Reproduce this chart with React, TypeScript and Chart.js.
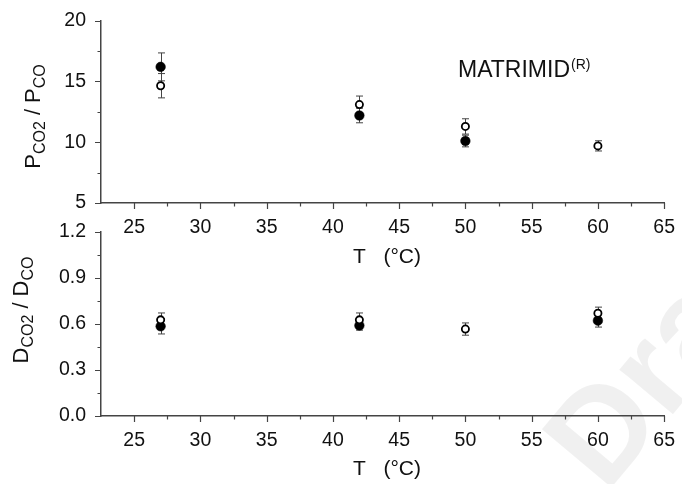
import React, { useEffect, useRef } from "react";
import { Chart, registerables } from "chart.js";

Chart.register(...registerables);

// ---------- data ----------
const T_P_OPEN = [27, 42, 50, 60];
const P_OPEN = [14.65, 13.1, 11.3, 9.7];
const P_OPEN_ERR = [1.0, 0.7, 0.63, 0.42];

const T_P_FILLED = [27, 42, 50];
const P_FILLED = [16.2, 12.2, 10.1];
const P_FILLED_ERR = [1.15, 0.6, 0.48];

const T_D_OPEN = [27, 42, 50, 60];
const D_OPEN = [0.627, 0.627, 0.567, 0.67];
const D_OPEN_ERR = [0.045, 0.045, 0.04, 0.04];

const T_D_FILLED = [27, 42, 60];
const D_FILLED = [0.585, 0.59, 0.622];
const D_FILLED_ERR = [0.05, 0.03, 0.042];

const X_TICKS = [25, 30, 35, 40, 45, 50, 55, 60, 65];
const X_MINOR = [27.5, 32.5, 37.5, 42.5, 47.5, 52.5, 57.5, 62.5];
const P_TICKS = [5, 10, 15, 20];
const P_MINOR = [7.5, 12.5, 17.5];
const D_TICKS = [0, 0.3, 0.6, 0.9, 1.2];
const D_MINOR = [0.15, 0.45, 0.75, 1.05];

const X_TITLE = "T   (\u00B0C)";
const LABEL_TEXT = "MATRIMID";
const LABEL_SUP = "(R)";
const WATERMARK = "Draft";

const FONT = "'Liberation Sans', Arial, sans-serif";
const AXIS_COLOR = "#444";
const TEXT_COLOR = "#111";

type Part = { t: string; size: number; dy: number };

function drawRich(ctx: CanvasRenderingContext2D, cx: number, cy: number, parts: Part[], rotate: boolean) {
  ctx.save();
  ctx.translate(cx, cy);
  if (rotate) ctx.rotate(-Math.PI / 2);
  ctx.fillStyle = TEXT_COLOR;
  ctx.textBaseline = "alphabetic";
  ctx.textAlign = "left";
  let total = 0;
  const widths = parts.map((p) => {
    ctx.font = `${p.size}px ${FONT}`;
    const w = ctx.measureText(p.t).width;
    total += w;
    return w;
  });
  let x = -total / 2;
  parts.forEach((p, i) => {
    ctx.font = `${p.size}px ${FONT}`;
    ctx.fillText(p.t, x, p.dy);
    x += widths[i];
  });
  ctx.restore();
}

const errorBarPlugin = {
  id: "errbars",
  beforeDatasetsDraw(chart: any) {
    const ctx = chart.ctx;
    const xs = chart.scales.x;
    const ys = chart.scales.y;
    ctx.save();
    ctx.strokeStyle = "#444";
    ctx.lineWidth = 1;
    chart.data.datasets.forEach((ds: any) => {
      const errs = ds.errors as number[];
      if (!errs) return;
      ds.data.forEach((p: any, i: number) => {
        const e = errs[i];
        const px = Math.round(xs.getPixelForValue(p.x)) + 0.5;
        const y1 = ys.getPixelForValue(p.y + e);
        const y2 = ys.getPixelForValue(p.y - e);
        ctx.beginPath();
        ctx.moveTo(px, y1);
        ctx.lineTo(px, y2);
        ctx.moveTo(px - 3.5, y1);
        ctx.lineTo(px + 3.5, y1);
        ctx.moveTo(px - 3.5, y2);
        ctx.lineTo(px + 3.5, y2);
        ctx.stroke();
      });
    });
    ctx.restore();
  },
};

function makeTickPlugin(yTicks: number[], yMinor: number[]) {
  return {
    id: "manualTicks",
    afterDraw(chart: any) {
      const ctx = chart.ctx;
      const xs = chart.scales.x;
      const ys = chart.scales.y;
      const { left, bottom } = chart.chartArea;
      ctx.save();
      ctx.strokeStyle = AXIS_COLOR;
      ctx.lineWidth = 1.2;
      ctx.beginPath();
      X_TICKS.forEach((v) => {
        const px = Math.round(xs.getPixelForValue(v)) + 0.5;
        ctx.moveTo(px, bottom);
        ctx.lineTo(px, bottom + 6);
      });
      X_MINOR.forEach((v) => {
        const px = Math.round(xs.getPixelForValue(v)) + 0.5;
        ctx.moveTo(px, bottom);
        ctx.lineTo(px, bottom + 3.5);
      });
      yTicks.forEach((v) => {
        const py = Math.round(ys.getPixelForValue(v)) + 0.5;
        ctx.moveTo(left - 6, py);
        ctx.lineTo(left, py);
      });
      yMinor.forEach((v) => {
        const py = Math.round(ys.getPixelForValue(v)) + 0.5;
        ctx.moveTo(left - 3.5, py);
        ctx.lineTo(left, py);
      });
      ctx.stroke();
      ctx.restore();
    },
  };
}

function makeConfig(opts: {
  openX: number[]; openY: number[]; openErr: number[];
  fillX: number[]; fillY: number[]; fillErr: number[];
  yMin: number; yMax: number; yTicks: number[]; yMinor: number[];
  padTop: number; padBottom: number; fmt: (v: number) => string;
  extra: any;
}): any {
  return {
    type: "scatter",
    data: {
      datasets: [
        {
          label: "open",
          data: opts.openX.map((t, i) => ({ x: t, y: opts.openY[i] })),
          errors: opts.openErr,
          pointRadius: 3.6,
          pointBackgroundColor: "#ffffff",
          pointBorderColor: "#000000",
          pointBorderWidth: 1.8,
          showLine: false,
        },
        {
          label: "filled",
          data: opts.fillX.map((t, i) => ({ x: t, y: opts.fillY[i] })),
          errors: opts.fillErr,
          pointRadius: 4.8,
          pointBackgroundColor: "#000000",
          pointBorderColor: "#000000",
          pointBorderWidth: 0.5,
          showLine: false,
        },
      ],
    },
    options: {
      animation: false,
      responsive: false,
      devicePixelRatio: 1,
      events: [],
      layout: { padding: { left: 0, right: 14, top: opts.padTop, bottom: opts.padBottom } },
      plugins: { legend: { display: false }, tooltip: { enabled: false }, title: { display: false } },
      scales: {
        x: {
          type: "linear",
          min: 22.5,
          max: 65,
          afterBuildTicks: (s: any) => {
            s.ticks = X_TICKS.map((v) => ({ value: v }));
          },
          afterFit: (s: any) => {
            s.height = 30;
          },
          grid: { display: false, drawTicks: true, tickLength: 6 },
          border: { display: true, color: AXIS_COLOR, width: 1.5 },
          ticks: {
            font: { family: FONT, size: 19.5 },
            color: TEXT_COLOR,
            padding: 7,
            maxRotation: 0,
            autoSkip: false,
            callback: (v: any) => String(v),
          },
        },
        y: {
          type: "linear",
          min: opts.yMin,
          max: opts.yMax,
          afterBuildTicks: (s: any) => {
            s.ticks = opts.yTicks.map((v) => ({ value: v }));
          },
          afterFit: (s: any) => {
            s.width = 101;
          },
          grid: { display: false, drawTicks: true, tickLength: 6 },
          border: { display: true, color: AXIS_COLOR, width: 1.5 },
          ticks: {
            font: { family: FONT, size: 19.5 },
            color: TEXT_COLOR,
            padding: 9,
            autoSkip: false,
            callback: (v: any) => opts.fmt(Number(v)),
          },
        },
      },
    },
    plugins: [errorBarPlugin, makeTickPlugin(opts.yTicks, opts.yMinor), opts.extra],
  };
}

export default function App() {
  const topRef = useRef<HTMLCanvasElement | null>(null);
  const botRef = useRef<HTMLCanvasElement | null>(null);

  useEffect(() => {
    const topExtra = {
      id: "topText",
      afterDraw(chart: any) {
        const ctx = chart.ctx;
        drawRich(ctx, 40, 116.5, [
          { t: "P", size: 22, dy: 0 },
          { t: "CO2", size: 16, dy: 5 },
          { t: " / P", size: 22, dy: 0 },
          { t: "CO", size: 16, dy: 5 },
        ], true);
        drawRich(ctx, 387, 263.3, [{ t: X_TITLE, size: 21, dy: 0 }], false);
        ctx.save();
        ctx.fillStyle = TEXT_COLOR;
        ctx.textAlign = "left";
        ctx.textBaseline = "alphabetic";
        ctx.font = `23px ${FONT}`;
        ctx.fillText(LABEL_TEXT, 458, 77.3);
        const w = ctx.measureText(LABEL_TEXT).width;
        ctx.font = `14px ${FONT}`;
        ctx.fillText(LABEL_SUP, 458 + w + 1, 69);
        ctx.restore();
      },
    };
    const botExtra = {
      id: "botText",
      beforeDraw(chart: any) {
        const ctx = chart.ctx;
        ctx.save();
        ctx.translate(600, 428);
        ctx.rotate((-50 * Math.PI) / 180);
        ctx.font = `bold 132px ${FONT}`;
        ctx.fillStyle = "rgba(0,0,0,0.06)";
        ctx.textAlign = "left";
        ctx.textBaseline = "alphabetic";
        ctx.fillText(WATERMARK, -47, 47);
        ctx.restore();
      },
      afterDraw(chart: any) {
        const ctx = chart.ctx;
        drawRich(ctx, 28, 310, [
          { t: "D", size: 22, dy: 0 },
          { t: "CO2", size: 16, dy: 5 },
          { t: " / D", size: 22, dy: 0 },
          { t: "CO", size: 16, dy: 5 },
        ], true);
        drawRich(ctx, 387, 475, [{ t: X_TITLE, size: 21, dy: 0 }], false);
      },
    };

    const c1 = new Chart(topRef.current as HTMLCanvasElement, makeConfig({
      openX: T_P_OPEN, openY: P_OPEN, openErr: P_OPEN_ERR,
      fillX: T_P_FILLED, fillY: P_FILLED, fillErr: P_FILLED_ERR,
      yMin: 5, yMax: 20, yTicks: P_TICKS, yMinor: P_MINOR,
      padTop: 20, padBottom: 484 - 203 - 30, fmt: (v) => String(v),
      extra: topExtra,
    }));
    const c2 = new Chart(botRef.current as HTMLCanvasElement, makeConfig({
      openX: T_D_OPEN, openY: D_OPEN, openErr: D_OPEN_ERR,
      fillX: T_D_FILLED, fillY: D_FILLED, fillErr: D_FILLED_ERR,
      yMin: 0, yMax: 1.2, yTicks: D_TICKS, yMinor: D_MINOR,
      padTop: 232, padBottom: 484 - 416 - 30, fmt: (v) => v.toFixed(1),
      extra: botExtra,
    }));
    return () => {
      c1.destroy();
      c2.destroy();
    };
  }, []);

  const style: React.CSSProperties = { position: "absolute", left: 0, top: 0, width: 682, height: 484 };
  return (
    <div style={{ position: "fixed", left: 0, top: 0, width: 682, height: 484, background: "#ffffff" }}>
      <canvas ref={botRef} width={682} height={484} style={style} />
      <canvas ref={topRef} width={682} height={484} style={style} />
    </div>
  );
}
